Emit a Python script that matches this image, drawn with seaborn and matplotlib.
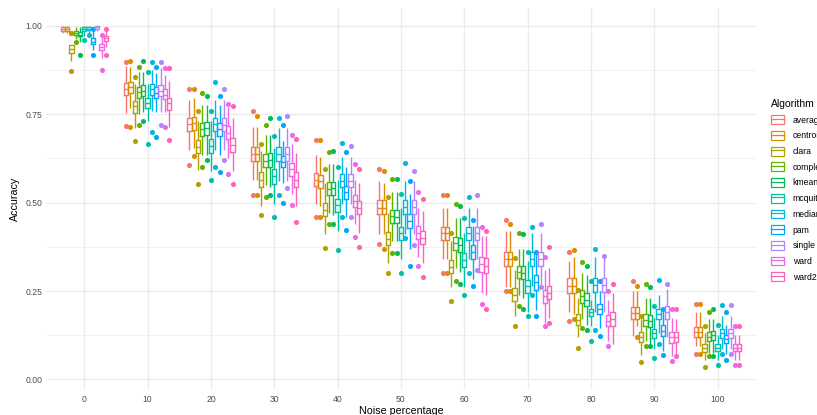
import matplotlib
matplotlib.use("Agg")
import matplotlib.pyplot as plt
import pandas as pd
import seaborn as sns
from matplotlib.patches import Patch
from matplotlib.lines import Line2D
from matplotlib.ticker import MultipleLocator

plt.rcParams["font.family"] = ["Liberation Sans", "DejaVu Sans"]

# categories
NOISE = ["0", "10", "20", "30", "40", "50", "60", "70", "80", "90", "100"]
ALGOS = ["average", "centroid", "clara", "complete", "kmeans", "mcquitty",
         "median", "pam", "single", "ward", "ward2"]
COLORS = ["#F8766D", "#DB8E00", "#AEA200", "#64B200", "#00BD5C", "#00C1A7",
          "#00BADE", "#00A6FF", "#B385FF", "#EF67EB", "#FF63B6"]

# box summaries (one list per algorithm, noise 0..100)
Q1 = {
    "average":  [0.985, 0.803, 0.702, 0.618, 0.548, 0.467, 0.394, 0.321, 0.245, 0.172, 0.121],
    "centroid": [0.985, 0.810, 0.705, 0.618, 0.540, 0.467, 0.394, 0.321, 0.245, 0.172, 0.121],
    "clara":    [0.923, 0.754, 0.639, 0.543, 0.461, 0.380, 0.300, 0.221, 0.153, 0.106, 0.078],
    "complete": [0.975, 0.796, 0.688, 0.600, 0.520, 0.443, 0.366, 0.287, 0.217, 0.151, 0.109],
    "kmeans":   [0.970, 0.800, 0.690, 0.600, 0.520, 0.442, 0.360, 0.283, 0.207, 0.148, 0.112],
    "mcquitty": [0.986, 0.768, 0.641, 0.553, 0.473, 0.394, 0.317, 0.245, 0.179, 0.118, 0.081],
    "median":   [0.988, 0.804, 0.703, 0.618, 0.545, 0.467, 0.394, 0.321, 0.247, 0.170, 0.118],
    "pam":      [0.947, 0.797, 0.688, 0.600, 0.511, 0.427, 0.340, 0.254, 0.184, 0.123, 0.103],
    "single":   [0.992, 0.800, 0.703, 0.618, 0.545, 0.467, 0.394, 0.321, 0.247, 0.172, 0.118],
    "ward":     [0.931, 0.792, 0.679, 0.576, 0.487, 0.396, 0.305, 0.216, 0.151, 0.104, 0.081],
    "ward2":    [0.958, 0.763, 0.644, 0.545, 0.467, 0.383, 0.300, 0.226, 0.150, 0.106, 0.081],
}
MED = {
    "average":  [0.990, 0.821, 0.721, 0.638, 0.565, 0.486, 0.413, 0.341, 0.265, 0.188, 0.135],
    "centroid": [0.990, 0.826, 0.725, 0.638, 0.560, 0.486, 0.413, 0.341, 0.265, 0.188, 0.135],
    "clara":    [0.934, 0.772, 0.657, 0.564, 0.480, 0.398, 0.319, 0.240, 0.169, 0.120, 0.090],
    "complete": [0.980, 0.812, 0.707, 0.618, 0.539, 0.461, 0.385, 0.304, 0.235, 0.168, 0.120],
    "kmeans":   [0.975, 0.816, 0.710, 0.620, 0.540, 0.460, 0.380, 0.300, 0.225, 0.165, 0.125],
    "mcquitty": [0.990, 0.782, 0.660, 0.574, 0.492, 0.413, 0.337, 0.263, 0.190, 0.130, 0.090],
    "median":   [0.992, 0.820, 0.721, 0.638, 0.562, 0.487, 0.413, 0.341, 0.267, 0.185, 0.130],
    "pam":      [0.955, 0.810, 0.707, 0.615, 0.530, 0.447, 0.360, 0.275, 0.198, 0.138, 0.114],
    "single":   [0.995, 0.815, 0.720, 0.637, 0.562, 0.487, 0.413, 0.341, 0.267, 0.190, 0.130],
    "ward":     [0.940, 0.805, 0.698, 0.595, 0.505, 0.415, 0.326, 0.235, 0.166, 0.120, 0.090],
    "ward2":    [0.965, 0.782, 0.664, 0.565, 0.485, 0.400, 0.322, 0.245, 0.170, 0.120, 0.090],
}
Q3 = {
    "average":  [0.995, 0.838, 0.739, 0.657, 0.583, 0.506, 0.431, 0.361, 0.287, 0.205, 0.149],
    "centroid": [0.995, 0.840, 0.742, 0.657, 0.578, 0.506, 0.431, 0.361, 0.287, 0.205, 0.149],
    "clara":    [0.945, 0.788, 0.676, 0.585, 0.499, 0.417, 0.338, 0.259, 0.184, 0.133, 0.100],
    "complete": [0.985, 0.828, 0.725, 0.637, 0.557, 0.480, 0.403, 0.321, 0.252, 0.184, 0.134],
    "kmeans":   [0.983, 0.831, 0.728, 0.640, 0.558, 0.480, 0.400, 0.320, 0.245, 0.183, 0.138],
    "mcquitty": [0.997, 0.797, 0.679, 0.595, 0.511, 0.431, 0.357, 0.282, 0.199, 0.142, 0.100],
    "median":   [0.996, 0.834, 0.739, 0.657, 0.580, 0.506, 0.431, 0.361, 0.287, 0.200, 0.143],
    "pam":      [0.964, 0.826, 0.725, 0.632, 0.548, 0.467, 0.380, 0.296, 0.212, 0.153, 0.125],
    "single":   [0.998, 0.833, 0.739, 0.657, 0.580, 0.506, 0.431, 0.361, 0.287, 0.207, 0.143],
    "ward":     [0.947, 0.820, 0.717, 0.613, 0.520, 0.433, 0.347, 0.254, 0.181, 0.133, 0.100],
    "ward2":    [0.971, 0.797, 0.683, 0.585, 0.504, 0.420, 0.343, 0.263, 0.190, 0.133, 0.100],
}
# whisker ends
LOW = {
    "average":  [0.980, 0.752, 0.650, 0.565, 0.497, 0.412, 0.340, 0.262, 0.190, 0.150, 0.095],
    "centroid": [0.980, 0.767, 0.655, 0.565, 0.490, 0.412, 0.340, 0.262, 0.185, 0.150, 0.095],
    "clara":    [0.899, 0.711, 0.591, 0.490, 0.410, 0.330, 0.260, 0.180, 0.120, 0.070, 0.055],
    "complete": [0.962, 0.750, 0.635, 0.550, 0.470, 0.390, 0.315, 0.240, 0.170, 0.110, 0.075],
    "kmeans":   [0.955, 0.755, 0.635, 0.545, 0.465, 0.390, 0.305, 0.230, 0.155, 0.100, 0.075],
    "mcquitty": [0.970, 0.730, 0.590, 0.495, 0.420, 0.340, 0.260, 0.190, 0.150, 0.085, 0.055],
    "median":   [0.978, 0.760, 0.650, 0.560, 0.495, 0.410, 0.340, 0.265, 0.190, 0.130, 0.085],
    "pam":      [0.931, 0.755, 0.635, 0.555, 0.460, 0.370, 0.285, 0.195, 0.145, 0.080, 0.072],
    "single":   [0.985, 0.755, 0.650, 0.560, 0.495, 0.410, 0.340, 0.265, 0.190, 0.125, 0.085],
    "ward":     [0.908, 0.755, 0.625, 0.525, 0.440, 0.345, 0.245, 0.160, 0.110, 0.065, 0.055],
    "ward2":    [0.940, 0.715, 0.590, 0.490, 0.415, 0.330, 0.240, 0.175, 0.120, 0.070, 0.055],
}
HIGH = {
    "average":  [0.998, 0.886, 0.790, 0.715, 0.635, 0.560, 0.485, 0.420, 0.335, 0.250, 0.190],
    "centroid": [0.997, 0.883, 0.795, 0.715, 0.630, 0.555, 0.485, 0.420, 0.345, 0.250, 0.190],
    "clara":    [0.978, 0.835, 0.730, 0.645, 0.555, 0.470, 0.390, 0.310, 0.230, 0.170, 0.130],
    "complete": [0.990, 0.870, 0.775, 0.690, 0.610, 0.530, 0.455, 0.370, 0.300, 0.230, 0.170],
    "kmeans":   [0.990, 0.870, 0.775, 0.690, 0.610, 0.530, 0.455, 0.370, 0.295, 0.230, 0.170],
    "mcquitty": [1.000, 0.835, 0.730, 0.655, 0.565, 0.485, 0.415, 0.335, 0.225, 0.175, 0.125],
    "median":   [0.998, 0.875, 0.790, 0.710, 0.630, 0.560, 0.485, 0.415, 0.345, 0.240, 0.180],
    "pam":      [0.987, 0.865, 0.775, 0.675, 0.600, 0.525, 0.435, 0.355, 0.250, 0.195, 0.155],
    "single":   [1.000, 0.880, 0.790, 0.710, 0.630, 0.560, 0.485, 0.415, 0.345, 0.255, 0.180],
    "ward":     [0.970, 0.860, 0.770, 0.665, 0.565, 0.485, 0.405, 0.310, 0.225, 0.175, 0.125],
    "ward2":    [0.990, 0.845, 0.740, 0.640, 0.555, 0.475, 0.405, 0.315, 0.245, 0.170, 0.125],
}
# extreme outliers
BOT = {
    "average":  [0.978, 0.716, 0.605, 0.520, 0.459, 0.383, 0.300, 0.249, 0.165, 0.123, 0.072],
    "centroid": [0.978, 0.713, 0.633, 0.520, 0.459, 0.370, 0.300, 0.250, 0.170, 0.120, 0.072],
    "clara":    [0.871, 0.675, 0.553, 0.464, 0.371, 0.300, 0.221, 0.151, 0.090, 0.048, 0.034],
    "complete": [0.955, 0.720, 0.600, 0.515, 0.440, 0.357, 0.277, 0.207, 0.146, 0.095, 0.065],
    "kmeans":   [0.917, 0.730, 0.619, 0.520, 0.440, 0.357, 0.270, 0.200, 0.140, 0.095, 0.065],
    "mcquitty": [0.960, 0.665, 0.563, 0.459, 0.367, 0.300, 0.240, 0.179, 0.109, 0.062, 0.041],
    "median":   [0.975, 0.700, 0.600, 0.520, 0.460, 0.400, 0.300, 0.240, 0.140, 0.100, 0.072],
    "pam":      [0.917, 0.685, 0.585, 0.500, 0.422, 0.320, 0.263, 0.180, 0.123, 0.070, 0.055],
    "single":   [0.985, 0.720, 0.620, 0.540, 0.460, 0.380, 0.310, 0.260, 0.190, 0.120, 0.072],
    "ward":     [0.875, 0.713, 0.581, 0.493, 0.403, 0.320, 0.213, 0.151, 0.095, 0.053, 0.040],
    "ward2":    [0.916, 0.678, 0.553, 0.445, 0.375, 0.291, 0.199, 0.160, 0.100, 0.065, 0.040],
}
TOP = {
    "average":  [1.000, 0.898, 0.822, 0.758, 0.676, 0.595, 0.520, 0.450, 0.361, 0.277, 0.212],
    "centroid": [1.000, 0.900, 0.822, 0.745, 0.676, 0.590, 0.520, 0.440, 0.365, 0.265, 0.212],
    "clara":    [0.980, 0.856, 0.758, 0.665, 0.595, 0.515, 0.413, 0.343, 0.254, 0.179, 0.151],
    "complete": [0.995, 0.884, 0.810, 0.719, 0.644, 0.567, 0.497, 0.413, 0.333, 0.270, 0.190],
    "kmeans":   [0.995, 0.900, 0.800, 0.740, 0.646, 0.567, 0.490, 0.410, 0.320, 0.260, 0.200],
    "mcquitty": [1.000, 0.870, 0.758, 0.688, 0.600, 0.525, 0.455, 0.361, 0.277, 0.207, 0.155],
    "median":   [1.000, 0.898, 0.840, 0.740, 0.667, 0.613, 0.515, 0.430, 0.370, 0.280, 0.210],
    "pam":      [0.990, 0.884, 0.800, 0.720, 0.644, 0.560, 0.450, 0.360, 0.277, 0.200, 0.190],
    "single":   [1.000, 0.898, 0.820, 0.745, 0.660, 0.590, 0.520, 0.440, 0.350, 0.270, 0.210],
    "ward":     [0.973, 0.880, 0.780, 0.690, 0.609, 0.530, 0.430, 0.345, 0.250, 0.200, 0.150],
    "ward2":    [0.992, 0.880, 0.773, 0.680, 0.595, 0.510, 0.420, 0.375, 0.270, 0.200, 0.150],
}

# build a long table whose quartiles / whiskers match the summaries above
rows = []
for a in ALGOS:
    for i, lvl in enumerate(NOISE):
        vals = ([BOT[a][i], LOW[a][i]] + [Q1[a][i]] * 10 + [MED[a][i]] * 10
                + [Q3[a][i]] * 10 + [HIGH[a][i], TOP[a][i]])
        rows += [(lvl, a, v) for v in vals]
df = pd.DataFrame(rows, columns=["noise", "Algorithm", "accuracy"])

fig = plt.figure(figsize=(8.17, 4.15), dpi=100)
ax = fig.add_axes([46.3 / 817, 1 - 389 / 415, (755.6 - 46.3) / 817, (389 - 8) / 415])

sns.boxplot(data=df, x="noise", y="accuracy", hue="Algorithm", order=NOISE,
            hue_order=ALGOS, palette=COLORS, fill=False, width=0.75, gap=0,
            linewidth=1.0, whis=1.5, legend=False, ax=ax, showcaps=False,
            flierprops=dict(marker="o", markersize=3.7))

# filled outlier dots like ggplot
for ln in ax.lines:
    if ln.get_marker() == "o":
        ln.set_markerfacecolor(ln.get_markeredgecolor())
        ln.set_markeredgewidth(0)

ax.set_xlim(-0.6, 10.6)
ax.set_ylim(-0.027, 1.05)
ax.yaxis.set_minor_locator(MultipleLocator(0.125))
ax.set_yticks([0, 0.25, 0.5, 0.75, 1.0])
ax.set_yticklabels(["0.00", "0.25", "0.50", "0.75", "1.00"])
ax.set_facecolor("white")
for s in ax.spines.values():
    s.set_visible(False)
ax.set_axisbelow(True)
ax.grid(True, which="major", color="#EBEBEB", linewidth=1.0)
ax.grid(True, which="minor", axis="y", color="#EBEBEB", linewidth=0.5)
ax.tick_params(which="both", length=0, labelsize=6.2, labelcolor="#4D4D4D")
ax.tick_params(axis="y", pad=3)
ax.tick_params(axis="x", pad=4)
ax.set_xlabel("Noise percentage", fontsize=7.7, labelpad=1.5)
ax.set_ylabel("Accuracy", fontsize=7.7, labelpad=3.5)

handles = [(Patch(facecolor="none", edgecolor=c, linewidth=0.9),
            Line2D([], [], color=c, linewidth=0.9)) for c in COLORS]
leg = ax.legend(handles, ALGOS, title="Algorithm", loc="upper left",
                bbox_to_anchor=(771 / 817, 1 - 99 / 415), bbox_transform=fig.transFigure,
                frameon=False, borderpad=0, borderaxespad=0, handlelength=1.5,
                handleheight=1.2, handletextpad=1.0, labelspacing=0.74,
                fontsize=6.2, title_fontsize=7.5, alignment="left")

fig.savefig("out.png", dpi=100)
